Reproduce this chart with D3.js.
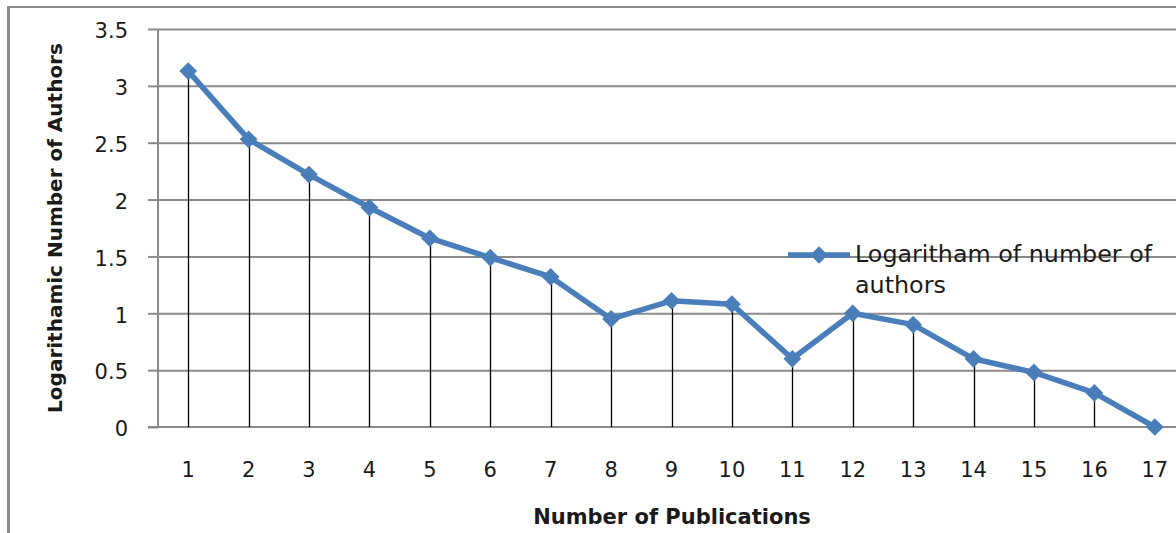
<!DOCTYPE html>
<html>
<head>
<meta charset="utf-8">
<script src="https://cdn.jsdelivr.net/npm/d3@7/dist/d3.min.js"></script>
<style>
  html, body { margin: 0; padding: 0; background: #fff; }
  svg { display: block; }
  text { font-family: "DejaVu Sans", sans-serif; fill: #1a1a1a; }
</style>
</head>
<body>
<svg id="chart" width="1176" height="533"></svg>
<script>
const categories = ["1","2","3","4","5","6","7","8","9","10","11","12","13","14","15","16","17"];
const seriesName = ["Logaritham of number of", "authors"];
const values = [3.13, 2.53, 2.22, 1.93, 1.66, 1.49, 1.32, 0.95, 1.11, 1.08, 0.60, 1.00, 0.90, 0.60, 0.48, 0.30, 0.00];
const yTicks = [0, 0.5, 1, 1.5, 2, 2.5, 3, 3.5];
const yTickLabels = ["0", "0.5", "1", "1.5", "2", "2.5", "3", "3.5"];
const xTitle = "Number of Publications";
const yTitle = "Logarithamic Number of Authors";

const svg = d3.select("#chart");
const W = 1176, H = 533;
const pLeft = 158, pRight = 1185, pTop = 29, pBottom = 427;
const blue = "#4a7ebb", grid = "#8a8a8a";
const FONT = "'DejaVu Sans', sans-serif";

// outer frame
svg.append("line").attr("x1", 8).attr("x2", W).attr("y1", 7).attr("y2", 7)
  .attr("stroke", grid).attr("stroke-width", 2);
svg.append("line").attr("x1", 8.5).attr("x2", 8.5).attr("y1", 6).attr("y2", H)
  .attr("stroke", grid).attr("stroke-width", 3);

const x = d3.scaleBand().domain(categories).range([pLeft, pRight]);
const y = d3.scaleLinear().domain([0, 3.5]).range([pBottom, pTop]);

// gridlines
svg.append("g").attr("transform", `translate(${pLeft},0)`)
  .call(d3.axisLeft(y).tickValues(yTicks.slice(1)).tickSize(-(pRight - pLeft)).tickFormat(""))
  .call(g => g.select(".domain").remove())
  .call(g => g.selectAll("line").attr("stroke", grid).attr("stroke-width", 2));

// y axis with outward ticks and labels
svg.append("g").attr("transform", `translate(${pLeft},0)`)
  .call(d3.axisLeft(y).tickValues(yTicks).tickSize(10).tickPadding(20)
    .tickFormat((d, i) => yTickLabels[i]))
  .call(g => g.select(".domain").remove())
  .call(g => g.selectAll("line").attr("stroke", grid).attr("stroke-width", 2))
  .call(g => g.selectAll("text").attr("font-size", 21).attr("dy", "0.42em")
    .attr("fill", "#1a1a1a").attr("font-family", FONT));

// y axis line
svg.append("line").attr("x1", pLeft).attr("x2", pLeft).attr("y1", pTop).attr("y2", pBottom)
  .attr("stroke", grid).attr("stroke-width", 2);

// x axis
svg.append("g").attr("transform", `translate(0,${pBottom})`)
  .call(d3.axisBottom(x).tickSize(0).tickPadding(35))
  .call(g => g.select(".domain").remove())
  .call(g => g.selectAll("text").attr("font-size", 21).attr("fill", "#1a1a1a")
    .attr("font-family", FONT));
svg.append("line").attr("x1", pLeft - 10).attr("x2", pRight).attr("y1", pBottom).attr("y2", pBottom)
  .attr("stroke", grid).attr("stroke-width", 2);

const cx = d => x(d) + x.bandwidth() / 2;

// drop lines
svg.append("g").selectAll("line").data(categories).join("line")
  .attr("x1", d => Math.round(cx(d)) + 0.5).attr("x2", d => Math.round(cx(d)) + 0.5)
  .attr("y1", (d, i) => y(values[i])).attr("y2", pBottom)
  .attr("stroke", "#000").attr("stroke-width", 1.3);

// series line
const line = d3.line().x((d, i) => cx(categories[i])).y(d => y(d));
svg.append("path").datum(values).attr("d", line)
  .attr("fill", "none").attr("stroke", blue).attr("stroke-width", 5.5)
  .attr("stroke-linejoin", "round");

const diamond = d3.symbol().type(d3.symbolDiamond2).size(200);
svg.append("g").selectAll("path").data(values).join("path")
  .attr("transform", (d, i) => `translate(${cx(categories[i])},${y(d)})`)
  .attr("d", diamond).attr("fill", blue);

// legend
const lg = svg.append("g").attr("transform", "translate(788,255)");
lg.append("line").attr("x1", 0).attr("x2", 62).attr("y1", 0).attr("y2", 0)
  .attr("stroke", blue).attr("stroke-width", 5.5);
lg.append("path").attr("transform", "translate(31,0)").attr("d", diamond).attr("fill", blue);
lg.selectAll("text").data(seriesName).join("text")
  .attr("x", 67).attr("y", (d, i) => 7 + i * 31)
  .attr("font-size", 23.8).attr("fill", "#1a1a1a").text(d => d);

// axis titles
svg.append("text").attr("x", 672).attr("y", 524).attr("text-anchor", "middle")
  .attr("font-size", 21).attr("font-weight", "bold").text(xTitle);
svg.append("text").attr("transform", "translate(62,228) rotate(-90)")
  .attr("text-anchor", "middle").attr("font-size", 20).attr("font-weight", "bold").text(yTitle);
</script>
</body>
</html>
